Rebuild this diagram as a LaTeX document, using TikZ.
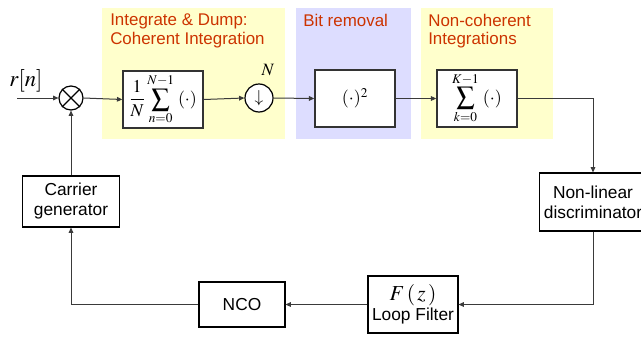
\documentclass[tikz,border=0pt]{standalone}
\usepackage{mathptmx}
\usepackage[no-math]{fontspec}
\setmainfont{Liberation Sans}
\usepackage{amsmath}
\usepackage{tikz}
\usetikzlibrary{positioning,arrows.meta}

\definecolor{stagetext}{HTML}{CC3300}
\definecolor{cohfill}{HTML}{FFFFCC}
\definecolor{bitfill}{HTML}{DDDDFF}
\definecolor{wire}{HTML}{3A3A3A}

\begin{document}
\begin{tikzpicture}[x=0.75pt, y=-0.75pt,
  stage/.style={fill=#1, draw=none, inner sep=0pt, minimum height=98.25pt},
  stage label/.style={text=stagetext, anchor=north west, align=left, inner sep=0pt, font=\fontsize{12.7}{13.8}\selectfont},
  opbox/.style={draw=black!80, line width=1.1pt, fill=white, minimum width=60pt, minimum height=42.75pt, inner sep=0pt, font=\fontsize{13.5}{15}\selectfont},
  loopbox/.style={draw=black, line width=0.8pt, fill=white, align=center, inner sep=0pt, font=\fontsize{13}{15}\selectfont},
  opcircle/.style={circle, draw=black, line width=0.9pt, fill=white, inner sep=0pt, minimum size=#1},
  link/.style={draw=wire, line width=0.75pt, -{Triangle[length=4pt,width=3.5pt]}}
]
\path[use as bounding box] (0,0) rectangle (641,339);

% background stages
\node[stage=cohfill, minimum width=137.25pt] (coh) at (193.5,73.5) {};
\node[stage=bitfill, minimum width=86.25pt] (bit) at (353.5,73.5) {};
\node[stage=cohfill, minimum width=99pt] (noncoh) at (487,73.5) {};
\node[stage label] (cohtext) at (110,14) {Integrate \& Dump:\\Coherent Integration};
\node[stage label] (bittext) at (303,14) {Bit removal};
\node[stage label] (noncohtext) at (428,14) {Non-coherent\\Integrations};

% forward path
\coordinate (in) at (17,98);
\node[anchor=base west, inner sep=0pt, font=\fontsize{17}{20}\selectfont] (rlabel) at (9,86) {$r[n]$};
\node[opcircle=18pt] (mult) at (71,98) {};
\draw[line width=0.9pt] (mult.45) -- (mult.225) (mult.135) -- (mult.-45);
\node[opbox] (sumn) at (163,99.5) {$\displaystyle\frac{1}{N}\sum_{n=0}^{N-1}\;(\cdot)$};
\node[opcircle=21pt, font=\fontsize{13}{15}\selectfont] (down) at (259,98) {$\downarrow$};
\node[font=\fontsize{13}{15}\selectfont, inner sep=0pt] (nlabel) at (268,70) {$N$};
\node[opbox] (square) at (355,98.5) {$(\cdot)^2$};
\node[opbox] (sumk) at (477,98.5) {$\displaystyle\sum_{k=0}^{K-1}\;(\cdot)$};

% loop
\node[loopbox, minimum width=80pt, minimum height=43.5pt] (disc) at (593,202) {Non-linear\\discriminator};
\node[loopbox, minimum width=67.5pt, minimum height=42.75pt] (loop) at (413,304.5) {{\fontsize{16}{18}\selectfont$F\,(\,z\,)$}\\Loop Filter};
\node[loopbox, minimum width=64.5pt, minimum height=33.75pt] (nco) at (242,304.5) {NCO};
\node[loopbox, minimum width=72.75pt, minimum height=38.25pt] (carrier) at (71,201.5) {Carrier\\generator};

\draw[link] (in) -- (mult.west);
\draw[link] (mult.east) -- (sumn.west);
\draw[link] (sumn.east) -- (down.west);
\draw[link] (down.east) -- (square.west);
\draw[link] (square.east) -- (sumk.west);
\draw[link] (sumk.east) -| (disc.north);
\draw[link] (disc.south) |- (loop.east);
\draw[link] (loop.west) -- (nco.east);
\draw[link] (nco.west) -| (carrier.south);
\draw[link] (carrier.north) -- (mult.south);
\end{tikzpicture}
\end{document}
